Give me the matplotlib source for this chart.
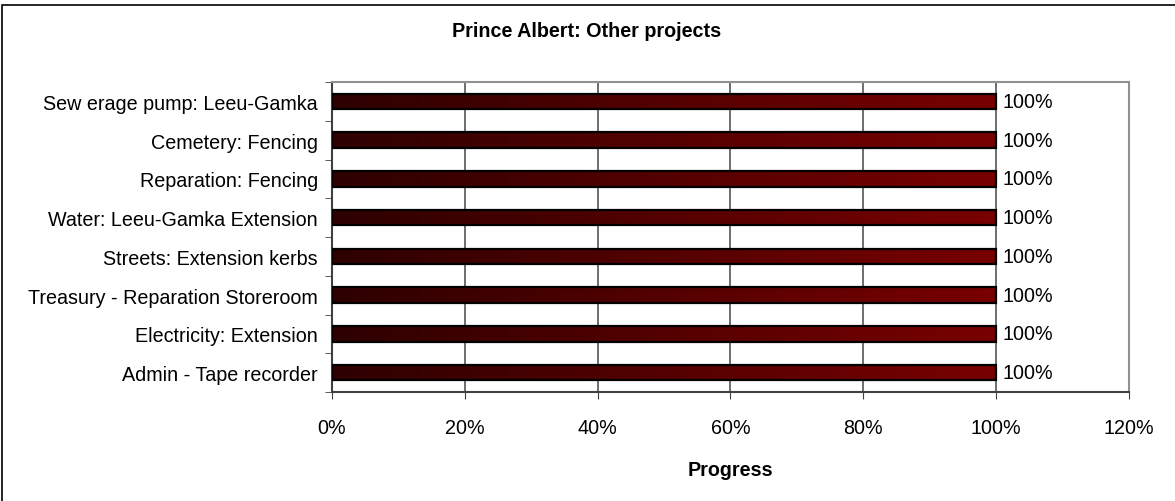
import numpy as np
import matplotlib.pyplot as plt
from matplotlib.colors import LinearSegmentedColormap
from matplotlib.patches import Rectangle
from matplotlib.ticker import FixedLocator, PercentFormatter

plt.rcParams['font.family'] = ['Liberation Sans', 'DejaVu Sans']

# data (top to bottom as shown)
projects = [
    "Sew erage pump: Leeu-Gamka",
    "Cemetery: Fencing",
    "Reparation: Fencing",
    "Water: Leeu-Gamka Extension",
    "Streets: Extension kerbs",
    "Treasury - Reparation Storeroom",
    "Electricity: Extension",
    "Admin - Tape recorder",
]
progress = [100, 100, 100, 100, 100, 100, 100, 100]
x_ticks = [0, 20, 40, 60, 80, 100, 120]

fs = 14.2

fig = plt.figure(figsize=(11.75, 5.02), dpi=100)
ax = fig.add_axes([332 / 1175, 1 - 393 / 502, (1129 - 332) / 1175, (393 - 83) / 502])

n = len(projects)
ypos = np.arange(n)[::-1]
bars = ax.barh(ypos, progress, height=0.4, color='none', edgecolor='black',
               linewidth=1.6, zorder=4)

# horizontal gradient fill in each bar
cmap = LinearSegmentedColormap.from_list('bar', ['#2e0000', '#540000', '#780000'])
grad = np.linspace(0, 1, 256).reshape(1, -1)
for b in bars:
    x0, y0 = b.get_x(), b.get_y()
    w, h = b.get_width(), b.get_height()
    im = ax.imshow(grad, cmap=cmap, aspect='auto', extent=(x0, x0 + w, y0, y0 + h),
                   zorder=3, interpolation='bilinear')
    im.set_clip_path(b)

for y, v in zip(ypos, progress):
    ax.text(v + 0.9, y, f"{v}%", va='center', ha='left', fontsize=fs, zorder=5)

ax.set_xlim(0, 120)
ax.set_ylim(-0.5, n - 0.5)
ax.xaxis.set_major_locator(FixedLocator(x_ticks))
ax.xaxis.set_major_formatter(PercentFormatter(decimals=0))
ax.set_yticks(ypos)
ax.set_yticklabels(projects, fontsize=fs)
ax.set_yticks(np.arange(n + 1) - 0.5, minor=True)
ax.tick_params(axis='y', which='major', length=0, pad=10)
ax.tick_params(axis='y', which='minor', length=5, direction='out', color='#404040')
ax.tick_params(axis='x', length=5, direction='out', color='#404040', labelsize=fs, pad=14)
ax.grid(axis='x', color='#555555', linewidth=1.2, zorder=1)
ax.set_axisbelow(True)

for s in ['top', 'right']:
    ax.spines[s].set_color('#909090')
    ax.spines[s].set_linewidth(1.5)
for s in ['left', 'bottom']:
    ax.spines[s].set_color('#404040')
    ax.spines[s].set_linewidth(1.5)

ax.set_xlabel("Progress", fontsize=fs, fontweight='bold', labelpad=16)
fig.text(587 / 1175, 1 - 32 / 502, "Prince Albert: Other projects", ha='center',
         va='center', fontsize=fs, fontweight='bold')

# outer chart border (left and top visible)
fig.patches.append(Rectangle((2 / 1175, -0.05), 1.1, 1 - 6 / 502 + 0.05,
                             transform=fig.transFigure, fill=False,
                             edgecolor='black', linewidth=1.2))

fig.savefig("out.png", dpi=100)
